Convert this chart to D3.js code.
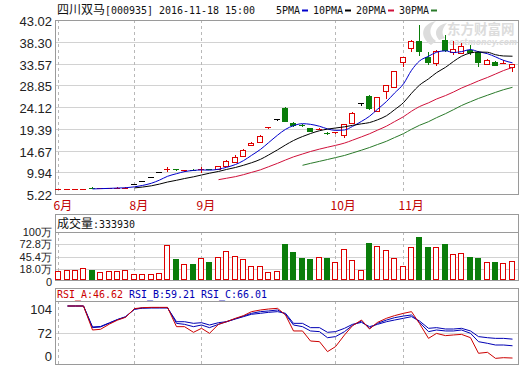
<!DOCTYPE html>
<html>
<head>
<meta charset="utf-8">
<script src="https://cdn.jsdelivr.net/npm/d3@7"></script>
<style>
  body { margin: 0; background: #fff; }
  svg { display: block; }
</style>
</head>
<body>
<svg id="chart" width="520" height="365"></svg>
<script>
"use strict";

// ---- data (price in yuan, volume in 万) ----
const opens  = [6.22,6.24,6.24,6.26,6.62,6.52,6.55,6.56,6.58,7.50,8.10,9.00,10.00,10.60,10.55,10.25,10.45,10.35,10.60,10.60,
                11.30,12.24,13.48,15.90,16.60,19.50,21.50,23.80,20.55,20.15,19.50,19.20,18.55,18.45,17.99,20.60,24.90,26.50,23.30,27.66,
                28.40,33.96,36.87,38.52,34.92,33.62,38.68,36.13,35.80,36.50,36.13,33.40,33.96,33.50,32.90];
const highs  = [6.30,6.30,6.28,6.40,6.70,6.62,6.62,6.64,6.68,7.50,8.10,9.00,10.00,11.10,10.70,10.50,10.55,11.00,10.75,11.40,
                12.70,13.60,14.90,16.60,18.10,19.70,21.50,24.20,20.80,20.35,19.60,19.50,18.70,18.70,20.50,23.00,24.90,26.70,26.30,29.00,
                32.00,35.00,38.60,41.93,36.13,36.50,39.76,38.52,37.96,37.60,36.30,34.50,34.10,34.30,33.50];
const lows   = [6.18,6.20,6.20,6.22,6.50,6.48,6.52,6.54,6.56,7.50,8.10,9.00,10.00,10.10,10.20,10.10,10.15,9.85,10.35,10.50,
                11.10,11.90,13.40,15.90,16.40,19.40,21.00,20.90,19.80,19.75,18.90,19.10,18.00,18.35,17.40,20.40,24.40,23.40,23.10,25.80,
                28.20,32.90,36.00,35.27,33.24,33.03,36.13,35.42,35.60,35.42,32.90,33.20,33.00,33.40,31.80];
const closes = [6.26,6.26,6.26,6.30,6.52,6.56,6.58,6.60,6.62,7.50,8.10,9.00,10.00,10.70,10.35,10.35,10.30,10.55,10.50,11.30,
                12.45,13.33,14.78,16.20,17.80,19.68,21.50,21.15,20.20,19.95,18.97,19.40,18.30,18.60,20.40,22.80,24.90,23.84,26.20,28.84,
                31.94,34.92,38.52,36.35,33.96,36.30,36.50,36.65,37.37,36.13,33.96,34.35,33.24,33.60,33.40];
const volumes = [16.7,18.8,18.8,23.6,18.8,14.6,16.7,16.7,18.8,10.4,10.4,10.4,12.5,72.9,41.7,31.3,31.3,43.8,36.1,45.8,
                 60.4,50.0,41.7,27.0,27.0,14.6,16.7,75.0,58.3,43.8,41.7,47.2,45.1,36.8,63.9,41.0,18.8,77.0,70.8,61.8,
                 45.1,28.5,68.0,89.6,68.8,68.0,75.0,53.5,56.3,45.8,43.8,36.8,35.4,33.3,37.5];
const rsiA = [null,100,100,100,75.4,76.1,81.5,85.5,88.4,97.3,98.3,98.6,98.6,98.6,78.8,78.8,73.0,77.1,72.0,81.2,
              83.9,87.4,90.1,94.2,95.9,96.9,97.6,90.8,74.4,74.4,64.1,63.4,53.2,58.3,70.3,79.8,85.6,76.4,83.2,87.4,
              90.1,92.5,94.2,82.0,66.8,71.9,69.6,70.3,70.9,67.5,51.5,52.5,46.3,47.0,46.62];
const rsiB = [null,100,100,100,77.8,78.5,82.5,86.0,88.7,96.9,98.0,98.3,98.3,98.3,82.2,81.2,78.8,80.5,77.8,81.2,
              83.9,87.0,89.7,92.5,94.2,94.9,95.9,91.5,80.5,78.8,74.4,73.7,67.5,68.6,73.7,80.2,84.6,77.1,82.2,85.6,
              88.0,89.7,90.8,83.2,73.7,75.4,74.4,74.4,75.4,72.0,63.4,61.7,60.0,60.0,59.21];
const rsiC = [null,100,100,100,78.5,79.0,82.8,86.2,89.0,96.6,97.8,98.0,98.0,98.0,83.9,83.9,82.2,82.9,80.5,82.9,
              83.9,86.7,89.1,91.5,92.5,93.5,94.2,92.5,82.2,82.2,77.8,77.8,73.0,73.7,77.1,81.2,83.2,78.8,81.2,83.9,
              85.6,87.4,89.1,84.6,77.1,77.8,76.4,76.4,77.1,74.4,68.6,67.5,66.8,66.8,66.01];

const priceTicks    = [43.02, 38.30, 33.57, 28.85, 24.12, 19.39, 14.67, 9.94, 5.22];
const volTickLabels = ['100万', '72.8万', '45.4万', '18.0万', '0'];
const rsiTickLabels = ['104', '72', '0'];
const rsiGrid       = [72];
const monthLabels   = ['6月', '8月', '9月', '10月', '11月'];
const monthStart    = [0, 9, 17, 33, 41];
const maPeriods     = [5, 10, 20, 30];
const maNames       = ['5PMA', '10PMA', '20PMA', '30PMA'];

// ---- styles ----
const UP = '#dd0000', DOWN = '#0a7d0a', FLAT = '#000';
const maColors = ['#0000cc', '#000000', '#d0103a', '#2a7a2a'];
const rsiColors = ['#cc0000', '#0000b4', '#0000b4'];
const BORDER = '#9a9a9a', GRID = '#d2d2d2', VGRID = '#b8b8b8';
const MONO = '"DejaVu Sans Mono", monospace';
const CJK = '"Noto Sans CJK SC", sans-serif';
const AXISF = '"Liberation Sans", sans-serif';

const svg = d3.select('#chart');
svg.append('rect').attr('width', 520).attr('height', 365).attr('fill', '#fff');

const L = 55, R = 519;
const mainTop = 20, mainBot = 194;
const volTop = 214, volHead = 232, volBot = 280;
const rsiTop = 288, rsiHead = 301, rsiBot = 364;

const n = closes.length;
const x = d3.scaleBand().domain(d3.range(n)).range([54, 516]).paddingInner(0.28).paddingOuter(0.14);
const bx = i => Math.round(x(i));       // left pixel of a bar
const cx = i => bx(i) + 3.5;            // wick / line x

const y    = d3.scaleLinear().domain([5.22, 43.02]).range([mainBot, mainTop]);
const yVol = d3.scaleLinear().domain([0, 100]).range([279, volHead]);
const yVolLab = d3.scalePoint().domain(volTickLabels).range([volHead, 281.5]);   // evenly spaced like the original
const yRsi = d3.scaleLinear().domain([72, 100]).range([333.3, 306]);
const yRsiLab = d3.scalePoint().domain(rsiTickLabels).range([309, 356]);
const px = v => Math.round(v) + 0.5;

// mono text squeezed to 6px per char, like the bitmap font of the original
function monoText(g, x0, y0, str, color) {
	return g.append('text').attr('x', x0).attr('y', y0).text(str)
		.attr('font-family', MONO).attr('font-size', 10.8).attr('fill', color)
		.attr('textLength', str.length * 6).attr('lengthAdjust', 'spacingAndGlyphs');
}
function cjkText(g, x0, y0, str, color) {
	return g.append('text').attr('x', x0).attr('y', y0).text(str)
		.attr('font-family', CJK).attr('font-size', 12).attr('fill', color);
}

// ---- panel frames and grids ----
function hline(g, yy, color) {
	g.append('line').attr('x1', L).attr('x2', R).attr('y1', px(yy)).attr('y2', px(yy))
		.attr('stroke', color).attr('shape-rendering', 'crispEdges');
}
function vgrid(g, y1, y2) {
	g.selectAll(null).data(monthStart).join('line')
		.attr('x1', i => cx(i)).attr('x2', i => cx(i)).attr('y1', y1).attr('y2', y2)
		.attr('stroke', VGRID).attr('stroke-dasharray', '3,3').attr('shape-rendering', 'crispEdges');
}
function frame(g, t, b) {
	g.append('rect').attr('x', L + 0.5).attr('y', t + 0.5).attr('width', R - L - 1).attr('height', b - t)
		.attr('fill', 'none').attr('stroke', BORDER).attr('shape-rendering', 'crispEdges');
}

const gGrid = svg.append('g');
priceTicks.slice(1, -1).forEach(v => hline(gGrid, y(v), GRID));
vgrid(gGrid, mainTop, mainBot);
frame(gGrid, mainTop, mainBot);

volTickLabels.slice(1, -1).forEach(t => hline(gGrid, yVolLab(t), GRID));
vgrid(gGrid, volHead, volBot);
hline(gGrid, volHead, BORDER);
frame(gGrid, volTop, volBot);

rsiGrid.forEach(v => hline(gGrid, yRsi(v), GRID));
vgrid(gGrid, rsiHead, rsiBot);
hline(gGrid, rsiHead, BORDER);
frame(gGrid, rsiTop, rsiBot);

// ---- axis labels ----
const gAx = svg.append('g').attr('font-family', AXISF).attr('fill', '#222').attr('text-anchor', 'end');
gAx.selectAll(null).data(priceTicks).join('text').attr('font-size', 13)
	.attr('x', 52).attr('y', d => y(d) + 6).text(d => d.toFixed(2));
gAx.selectAll(null).data(volTickLabels).join('text').attr('font-size', 11)
	.attr('x', 52).attr('y', d => yVolLab(d) + 4).text(d => d);
gAx.selectAll(null).data(rsiTickLabels).join('text').attr('font-size', 13)
	.attr('x', 52).attr('y', d => yRsiLab(d) + 5).text(d => d);

svg.append('g').selectAll(null).data(monthStart).join('text')
	.attr('x', i => cx(i) - 5).attr('y', 210).text((d, k) => monthLabels[k])
	.attr('font-family', CJK).attr('font-size', 12).attr('fill', '#c00000');

// ---- header texts ----
const gHead = svg.append('g');
cjkText(gHead, 57, 14, '四川双马', '#111');
monoText(gHead, 105, 14, '[000935] 2016-11-18 15:00', '#111');

let lx = 276;
maNames.forEach((name, k) => {
	monoText(gHead, lx, 14, name, '#111');
	lx += name.length * 6 + 2;
	gHead.append('line').attr('x1', lx).attr('x2', lx + 6).attr('y1', 10.5).attr('y2', 10.5)
		.attr('stroke', maColors[k]).attr('stroke-width', 2);
	lx += 6 + 5;
});

cjkText(gHead, 57, 228, '成交量', '#111');
monoText(gHead, 93, 228, ':' + '333930', '#111');

const rsiLast = [rsiA, rsiB, rsiC].map(a => a[a.length - 1].toFixed(2));
['RSI_A', 'RSI_B', 'RSI_C'].forEach((nm, k) => {
	monoText(gHead, 57 + k * 72, 298, nm + ':' + rsiLast[k], rsiColors[k]);
});

// ---- watermark ----
const gWm = svg.append('g').attr('fill', '#dcdcdc');
gWm.append('path')
	.attr('d', 'M431,45 C419,37 421,24 436,21 C429,27 428,35 436,41 Z M439,40 C433,33 436,25 447,23 C442,28 441,34 445,38 Z');
gWm.append('text').attr('x', 447).attr('y', 34).text('东方财富网')
	.attr('font-family', CJK).attr('font-size', 13.5).attr('font-weight', 'bold');
gWm.append('text').attr('x', 449).attr('y', 45).text('eastmoney.com')
	.attr('font-family', '"DejaVu Sans", sans-serif').attr('font-size', 8)
	.attr('font-weight', 'bold').attr('font-style', 'italic')
	.attr('textLength', 68).attr('lengthAdjust', 'spacingAndGlyphs');

// ---- candles ----
const gK = svg.append('g').attr('shape-rendering', 'crispEdges');
gK.selectAll('g').data(d3.range(n)).join('g').each(function(i) {
	const g = d3.select(this);
	const o = opens[i], c = closes[i];
	const col = c > o ? UP : (c < o ? DOWN : FLAT);
	const x0 = bx(i), xm = cx(i);
	const yT = Math.round(Math.min(y(o), y(c))), yB = Math.round(Math.max(y(o), y(c)));
	const yH = Math.round(y(highs[i])), yL = Math.round(y(lows[i]));
	if (yB - yT < 1.5) {
		if (yH < yT) g.append('line').attr('x1', xm).attr('x2', xm).attr('y1', yH).attr('y2', yT).attr('stroke', col);
		if (yL > yT) g.append('line').attr('x1', xm).attr('x2', xm).attr('y1', yT).attr('y2', yL).attr('stroke', col);
		g.append('line').attr('x1', x0).attr('x2', x0 + 6).attr('y1', yT + 0.5).attr('y2', yT + 0.5)
			.attr('stroke', col);
		return;
	}
	if (yH < yT) g.append('line').attr('x1', xm).attr('x2', xm).attr('y1', yH).attr('y2', yT).attr('stroke', col);
	if (yL > yB) g.append('line').attr('x1', xm).attr('x2', xm).attr('y1', yB).attr('y2', yL).attr('stroke', col);
	g.append('rect').attr('x', x0 + 0.5).attr('y', yT + 0.5).attr('width', 5).attr('height', yB - yT)
		.attr('fill', c > o ? '#fff' : col).attr('stroke', col);
});

// ---- moving averages (from the closes above) ----
const gMa = svg.append('g').attr('fill', 'none');
maPeriods.forEach((p, k) => {
	const ma = closes.map((c, i) => i < p - 1 ? null : d3.mean(closes.slice(i - p + 1, i + 1)));
	const line = d3.line().defined(d => d != null).x((d, i) => cx(i)).y(d => y(d)).curve(d3.curveMonotoneX);
	gMa.append('path').attr('d', line(ma)).attr('stroke', maColors[k]).attr('stroke-width', 1);
});

// ---- volume ----
const gV = svg.append('g').attr('shape-rendering', 'crispEdges');
gV.selectAll('rect').data(volumes).join('rect')
	.attr('x', (d, i) => bx(i) + 0.5)
	.attr('y', d => Math.round(yVol(d)) + 0.5)
	.attr('width', 5)
	.attr('height', d => 279 - Math.round(yVol(d)))
	.attr('fill', (d, i) => closes[i] < opens[i] ? DOWN : '#fff')
	.attr('stroke', (d, i) => closes[i] < opens[i] ? DOWN : UP);

// ---- RSI ----
const gR = svg.append('g').attr('fill', 'none');
const rline = d3.line().defined(d => d != null).x((d, i) => cx(i)).y(d => yRsi(d));
[rsiC, rsiB, rsiA].forEach((arr, k) => {
	gR.append('path').attr('d', rline(arr)).attr('stroke', rsiColors[2 - k]).attr('stroke-width', 1);
});
</script>
</body>
</html>
